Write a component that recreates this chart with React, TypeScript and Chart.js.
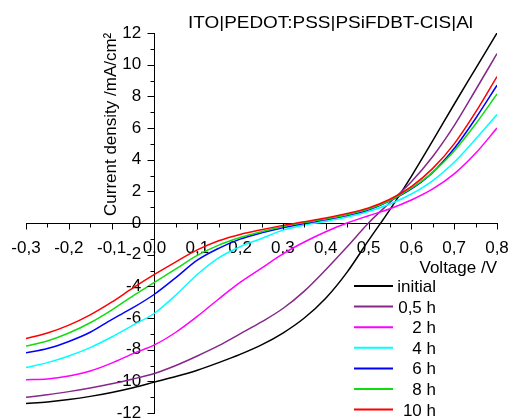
import React, { useEffect, useRef } from 'react';
import { Chart, registerables } from 'chart.js';

Chart.register(...registerables);

// ---- data ----
const voltages = [-0.3, -0.25, -0.2, -0.15, -0.1, -0.05, 0, 0.05, 0.1, 0.15, 0.2, 0.25, 0.3, 0.35, 0.4, 0.45, 0.5, 0.55, 0.6, 0.65, 0.7, 0.75, 0.8];

const seriesLabels = ['initial', '0,5 h', '2 h', '4 h', '6 h', '8 h', '10 h'];
const seriesColors = ['#000000', '#86288a', '#ff00ff', '#00ffff', '#0000ff', '#10dd10', '#ff0000'];

const jInitial = [-11.4, -11.3, -11.15, -10.95, -10.7, -10.4, -10.05, -9.7, -9.3, -8.82, -8.3, -7.7, -6.95, -6.0, -4.75, -3.1, -1.1, 0.85, 2.95, 5.2, 7.5, 9.75, 12.0];
const j05h = [-11.0, -10.85, -10.65, -10.42, -10.15, -9.85, -9.5, -9.0, -8.4, -7.75, -7.0, -6.25, -5.4, -4.3, -2.95, -1.5, 0.0, 1.3, 2.6, 4.2, 6.15, 8.4, 10.7];
const j2h = [-9.9, -9.85, -9.66, -9.35, -8.85, -8.25, -7.7, -6.9, -5.9, -4.8, -3.75, -2.85, -1.95, -1.2, -0.55, 0.0, 0.46, 0.9, 1.45, 2.15, 3.1, 4.4, 6.0];
const j4h = [-9.13, -8.82, -8.4, -7.87, -7.2, -6.45, -5.7, -4.55, -3.25, -2.2, -1.5, -0.98, -0.45, -0.12, 0.1, 0.37, 0.73, 1.2, 1.83, 2.68, 3.84, 5.3, 6.85];
const j6h = [-8.2, -7.93, -7.48, -6.9, -6.1, -5.35, -4.5, -3.45, -2.35, -1.6, -1.02, -0.62, -0.3, -0.03, 0.2, 0.47, 0.83, 1.4, 2.15, 3.2, 4.7, 6.6, 8.7];
const j8h = [-7.77, -7.45, -6.95, -6.3, -5.5, -4.6, -3.75, -2.9, -2.05, -1.4, -0.92, -0.55, -0.22, 0.03, 0.25, 0.52, 0.88, 1.42, 2.2, 3.2, 4.55, 6.25, 8.15];
const j10h = [-7.3, -6.95, -6.45, -5.8, -5.0, -4.1, -3.25, -2.45, -1.7, -1.12, -0.72, -0.42, -0.15, 0.08, 0.32, 0.6, 0.95, 1.5, 2.3, 3.45, 5.0, 7.0, 9.25];

const seriesValues = [jInitial, j05h, j2h, j4h, j6h, j8h, j10h];

const xTickValues = [-0.3, -0.2, -0.1, 0, 0.1, 0.2, 0.3, 0.4, 0.5, 0.6, 0.7, 0.8];
const xMinorTickValues = [-0.25, -0.15, -0.05, 0.05, 0.15, 0.25, 0.35, 0.45, 0.55, 0.65, 0.75];
const yTickValues = [-12, -10, -8, -6, -4, -2, 0, 2, 4, 6, 8, 10, 12];
const yMinorTickValues = [-11, -9, -7, -5, -3, -1, 1, 3, 5, 7, 9, 11];

const chartTitle = 'ITO|PEDOT:PSS|PSiFDBT-CIS|Al';
const xTitle = 'Voltage /V';
const yTitle = 'Current density /mA/cm\u00B2';

const FONT = "'Liberation Sans', Arial, sans-serif";

const fmtX = (v: number) => (Math.abs(v) < 1e-9 ? 0 : v).toFixed(1).replace('.', ',');

const decorPlugin = {
  id: 'decor',
  afterDraw(chart: any) {
    const ctx = chart.ctx as CanvasRenderingContext2D;
    const xs = chart.scales.x;
    const ys = chart.scales.y;
    const x0 = Math.round(xs.getPixelForValue(0)) + 0.5;
    const y0 = Math.round(ys.getPixelForValue(0)) + 0.5;
    ctx.save();
    ctx.strokeStyle = '#000';
    ctx.lineWidth = 1;
    ctx.beginPath();
    xTickValues.forEach((v) => {
      const px = Math.round(xs.getPixelForValue(v)) + 0.5;
      ctx.moveTo(px, y0);
      ctx.lineTo(px, y0 + 6);
    });
    xMinorTickValues.forEach((v) => {
      const px = Math.round(xs.getPixelForValue(v)) + 0.5;
      ctx.moveTo(px, y0);
      ctx.lineTo(px, y0 + 4);
    });
    yTickValues.forEach((v) => {
      const py = Math.round(ys.getPixelForValue(v)) + 0.5;
      ctx.moveTo(x0, py);
      ctx.lineTo(x0 - 7, py);
    });
    yMinorTickValues.forEach((v) => {
      const py = Math.round(ys.getPixelForValue(v)) + 0.5;
      ctx.moveTo(x0, py);
      ctx.lineTo(x0 - 4, py);
    });
    ctx.stroke();

    ctx.fillStyle = '#000';
    // chart title (slightly widened like the original)
    ctx.font = `17px ${FONT}`;
    ctx.textBaseline = 'alphabetic';
    ctx.textAlign = 'left';
    const tw = ctx.measureText(chartTitle).width;
    ctx.save();
    ctx.translate(188, 28);
    ctx.scale(285 / tw, 1);
    ctx.fillText(chartTitle, 0, 0);
    ctx.restore();
    // x axis title
    ctx.textAlign = 'right';
    ctx.fillText(xTitle, xs.right, 273);
    // y axis title
    ctx.save();
    ctx.translate(116, 216);
    ctx.rotate(-Math.PI / 2);
    ctx.textAlign = 'left';
    ctx.fillText(yTitle, 0, 0);
    ctx.restore();

    // legend
    const legX1 = 354;
    const legX2 = 393;
    const legTextRight = 436;
    const legTop = 286;
    const legStep = 20.6;
    ctx.textAlign = 'right';
    seriesLabels.forEach((label, i) => {
      const y = legTop + i * legStep;
      ctx.strokeStyle = seriesColors[i];
      ctx.lineWidth = 2;
      ctx.beginPath();
      ctx.moveTo(legX1, y);
      ctx.lineTo(legX2, y);
      ctx.stroke();
      ctx.fillStyle = '#000';
      ctx.fillText(label, legTextRight, y + 6);
    });
    ctx.restore();
  },
};

export default function App() {
  const canvasRef = useRef<HTMLCanvasElement | null>(null);

  useEffect(() => {
    const canvas = canvasRef.current;
    if (!canvas) return;
    const datasets = seriesLabels.map((label, i) => ({
      label,
      data: voltages.map((v, k) => ({ x: v, y: seriesValues[i][k] })),
      borderColor: seriesColors[i],
      backgroundColor: seriesColors[i],
      borderWidth: 1.5,
      pointRadius: 0,
      fill: false,
      cubicInterpolationMode: 'monotone' as const,
      order: -i,
    }));

    const chart = new Chart(canvas, {
      type: 'line',
      data: { datasets },
      options: {
        animation: false,
        responsive: false,
        devicePixelRatio: 1,
        layout: { padding: { left: 26, right: 13, top: 33, bottom: 17 } },
        plugins: {
          legend: { display: false },
          title: { display: false },
          tooltip: { enabled: false },
        },
        scales: {
          x: {
            type: 'linear',
            position: { y: 0 } as any,
            min: -0.3,
            max: 0.8,
            afterBuildTicks: (scale: any) => {
              scale.ticks = xTickValues.map((v) => ({ value: v }));
            },
            afterFit: (scale: any) => {
              scale.paddingLeft = 0;
              scale.paddingRight = 0;
              scale.paddingTop = 0;
              scale.paddingBottom = 0;
            },
            ticks: {
              autoSkip: false,
              maxRotation: 0,
              minRotation: 0,
              padding: 15,
              color: '#000',
              font: { family: FONT, size: 17 },
              callback: (v: any) => fmtX(Number(v)),
            },
            grid: { display: false, drawTicks: false },
            border: { display: true, color: '#000', width: 1 },
          },
          y: {
            type: 'linear',
            position: { x: 0 } as any,
            min: -12,
            max: 12,
            afterBuildTicks: (scale: any) => {
              scale.ticks = yTickValues.map((v) => ({ value: v }));
            },
            afterFit: (scale: any) => {
              scale.paddingLeft = 0;
              scale.paddingRight = 0;
              scale.paddingTop = 0;
              scale.paddingBottom = 0;
            },
            ticks: {
              autoSkip: false,
              padding: 8,
              color: '#000',
              font: { family: FONT, size: 17 },
              callback: (v: any) => String(v) + '\u2002 ',
            },
            grid: { display: false, drawTicks: false },
            border: { display: true, color: '#000', width: 1 },
          },
        },
      },
      plugins: [decorPlugin],
    });
    return () => chart.destroy();
  }, []);

  return (
    <canvas
      ref={canvasRef}
      width={510}
      height={430}
      style={{ position: 'fixed', left: 0, top: 0, width: 510, height: 430, background: '#fff' }}
    />
  );
}
